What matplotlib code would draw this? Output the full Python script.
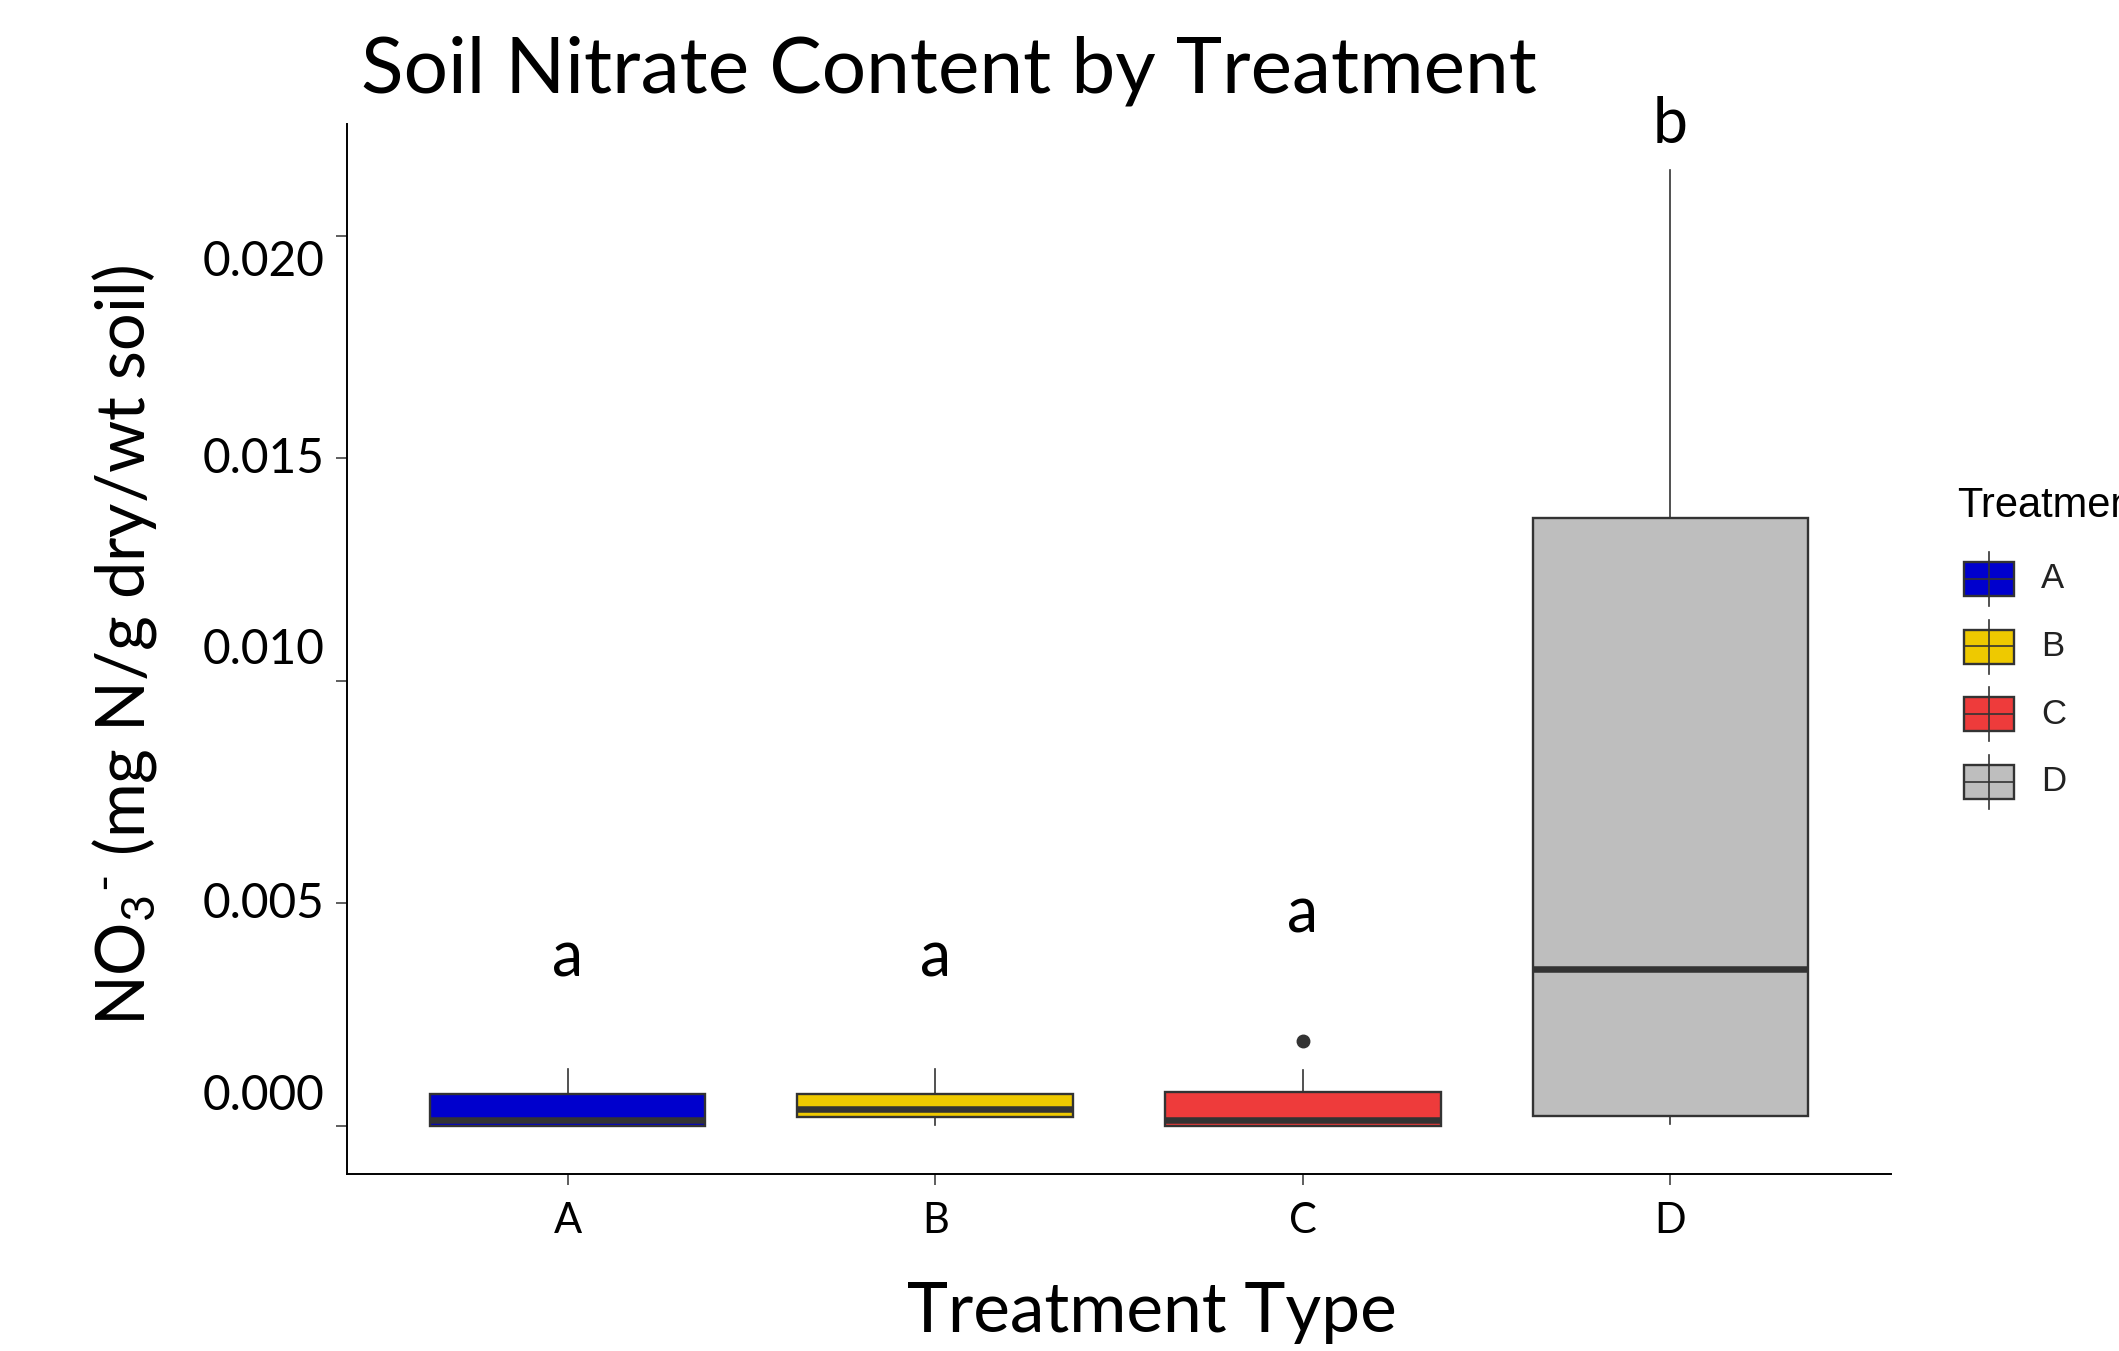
import matplotlib.pyplot as plt
import matplotlib.transforms as mtransforms
from matplotlib.patches import Rectangle
from matplotlib.lines import Line2D

plt.rcParams['font.family'] = ['Lato', 'DejaVu Sans']
plt.rcParams['mathtext.fontset'] = 'custom'
plt.rcParams['mathtext.rm'] = 'Lato'
plt.rcParams['mathtext.it'] = 'Lato:italic'
plt.rcParams['mathtext.bf'] = 'Lato:bold'

# data
treatments = ['A', 'B', 'C', 'D']
q1 = [-0.00002, 0.00020, -0.00002, 0.00021]
medians = [0.00012, 0.00037, 0.00012, 0.00353]
q3 = [0.00072, 0.00070, 0.00075, 0.01365]
whisk_lo = [-0.00002, 0.00002, -0.00002, 0.00003]
whisk_hi = [0.00128, 0.00128, 0.00124, 0.02149]
outliers = [[], [], [0.0019], []]
colors = ['#0000CD', '#EEC900', '#EE3B3B', '#BEBEBE']
letters = ['a', 'a', 'a', 'b']
letter_y = [0.00334, 0.00334, 0.00435, 0.0221]
yticks = [0.0, 0.005, 0.010, 0.015, 0.020]
ytick_labels = ['0.000', '0.005', '0.010', '0.015', '0.020']
ylab_nudge = [34, 3, 35, 3, -22]  # px, labels in the original are pasted slightly off

W, H = 2119, 1351
fig = plt.figure(figsize=(W / 100, H / 100), dpi=100)
ax = fig.add_axes([347 / W, 1 - 1174 / H, (1891 - 347) / W, (1174 - 124) / H])

stats = []
for i, t in enumerate(treatments):
    stats.append(dict(label=t, q1=q1[i], med=medians[i], q3=q3[i],
                      whislo=whisk_lo[i], whishi=whisk_hi[i], fliers=outliers[i]))

edge = '#333333'
bp = ax.bxp(stats, positions=range(1, 5), widths=0.75, patch_artist=True, showcaps=False,
            boxprops=dict(edgecolor=edge, linewidth=1.7),
            medianprops=dict(color=edge, linewidth=4.7, solid_capstyle='butt'),
            whiskerprops=dict(color=edge, linewidth=1.2),
            flierprops=dict(marker='o', markerfacecolor=edge, markeredgecolor=edge, markersize=9))
for patch, c in zip(bp['boxes'], colors):
    patch.set_facecolor(c)

for i, (lt, y) in enumerate(zip(letters, letter_y)):
    ax.text(i + 1, y, lt, ha='center', va='baseline', fontsize=45, clip_on=False)

ax.set_xlim(0.4, 4.6)
ax.set_ylim(-0.00109, 0.02252)
ax.set_xticks(range(1, 5), treatments)
ax.set_yticks(yticks, ytick_labels)
ax.tick_params(axis='both', color=edge, length=8, width=1.1)
ax.tick_params(axis='x', labelsize=30, pad=12)
ax.tick_params(axis='y', labelsize=34.5, pad=8)
for lab, dy in zip(ax.get_yticklabels(), ylab_nudge):
    lab.set_transform(lab.get_transform() + mtransforms.ScaledTranslation(0, dy / 100, fig.dpi_scale_trans))

for s in ['top', 'right']:
    ax.spines[s].set_visible(False)
for s in ['left', 'bottom']:
    ax.spines[s].set_linewidth(1.4)
    ax.spines[s].set_color('black')

ax.set_xlabel('Treatment Type', fontsize=50)
ax.xaxis.set_label_coords(0.521, -0.102)
ax.set_ylabel(r'NO$_3{}^{\text{-}}$ (mg N/g dry/wt soil)', fontsize=48)
ax.yaxis.set_label_coords(-0.122, 0.504)

fig.text(361 / W, 1 - 92 / H, 'Soil Nitrate Content by Treatment', fontsize=56.5,
         ha='left', va='baseline')

# legend drawn by hand, cut off at the right edge like the original
fig.text(1957 / W, 1 - 506 / H, 'Treatment', fontsize=30, family='Liberation Sans',
         ha='left', va='center')
for i, (t, c) in enumerate(zip(treatments, colors)):
    cy = 579 + i * 67.5
    tr = fig.transFigure
    fig.add_artist(Line2D([1989 / W, 1989 / W], [1 - (cy - 27) / H, 1 - (cy + 27) / H],
                          color=edge, lw=1.2, transform=tr))
    fig.add_artist(Rectangle((1964 / W, 1 - (cy + 17) / H), 50 / W, 34 / H,
                             facecolor=c, edgecolor=edge, lw=1.7, transform=tr))
    fig.add_artist(Line2D([1964 / W, 2014 / W], [1 - cy / H, 1 - cy / H],
                          color=edge, lw=1.2, transform=tr))
    fig.text(2041 / W, 1 - cy / H, t, fontsize=25, family='Liberation Sans',
             color='#222222', ha='left', va='center')

fig.savefig('out.png', dpi=100)
